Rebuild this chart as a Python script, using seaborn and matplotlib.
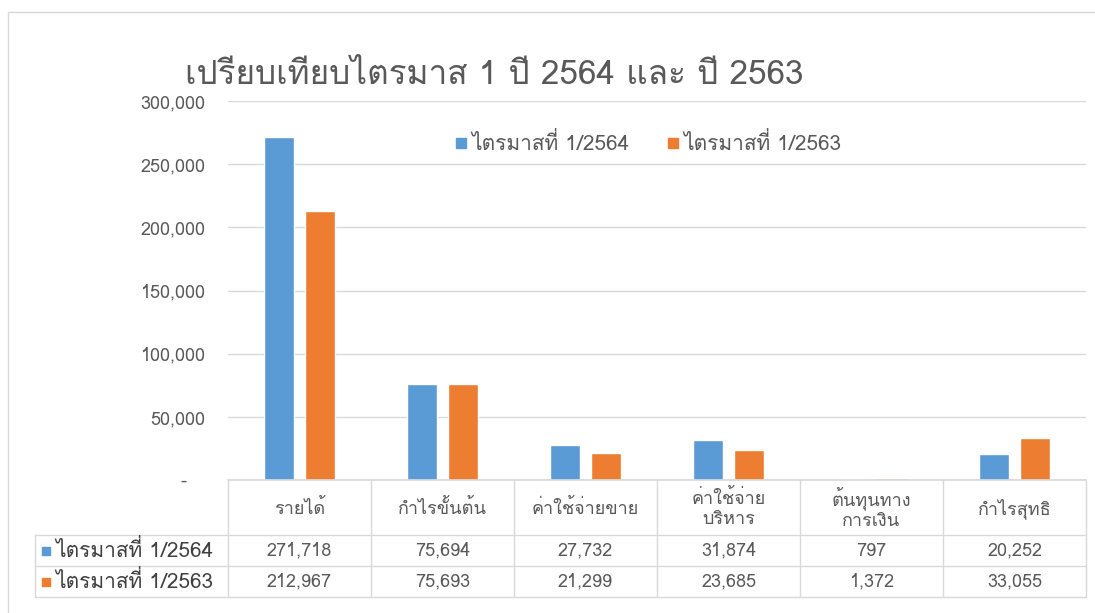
import matplotlib
matplotlib.use("Agg")
import matplotlib.pyplot as plt
import seaborn as sns
import pandas as pd
from matplotlib.ticker import FixedLocator, FuncFormatter
from matplotlib.patches import Rectangle

# Données du graphique
title = "เปรียบเทียบไตรมาส 1 ปี 2564 และ ปี 2563"
categories = ["รายได้", "กำไรขั้นต้น", "ค่าใช้จ่ายขาย", "ค่าใช้จ่าย\nบริหาร", "ต้นทุนทาง\nการเงิน", "กำไรสุทธิ"]
series_names = ["ไตรมาสที่ 1/2564", "ไตรมาสที่ 1/2563"]
q1_2564 = [271718, 75694, 27732, 31874, 797, 20252]
q1_2563 = [212967, 75693, 21299, 23685, 1372, 33055]
y_ticks = [0, 50000, 100000, 150000, 200000, 250000, 300000]

colors = ["#5B9BD5", "#ED7D31"]
text_color = "#595959"
line_color = "#D9D9D9"
fs = 13

sns.set_theme(style="white")
# Loma garde les signes diacritiques thaïs visibles sans mise en forme complexe
plt.rcParams["font.family"] = ["Loma", "Noto Sans", "DejaVu Sans"]

df = pd.DataFrame({
    "category": categories * 2,
    "series": [series_names[0]] * len(categories) + [series_names[1]] * len(categories),
    "value": q1_2564 + q1_2563,
})

W, H = 1095, 613
fig = plt.figure(figsize=(W / 100, H / 100), dpi=100)

# zone du graphique (en pixels)
left, right = 228, 1086
top, zero_y = 101, 480
ax = fig.add_axes([left / W, (H - zero_y) / H, (right - left) / W, (zero_y - top) / H])

sns.barplot(data=df, x="category", y="value", hue="series", palette=colors,
            width=0.56, gap=0.25, ax=ax, legend=False, saturation=1)
ax.set_xlim(-0.5, len(categories) - 0.5)
ax.set_ylim(0, 300000)
ax.yaxis.set_major_locator(FixedLocator(y_ticks))
ax.yaxis.set_major_formatter(FuncFormatter(lambda v, p: "-   " if v == 0 else f"{int(v):,}"))
ax.tick_params(axis="y", length=0, pad=16.5, labelsize=fs, labelcolor=text_color)
ax.tick_params(axis="x", length=0, labelbottom=False)
ax.set_xlabel("")
ax.set_ylabel("")
ax.grid(axis="y", color=line_color, linewidth=1)
ax.set_axisbelow(True)
for s in ["top", "right", "left"]:
    ax.spines[s].set_visible(False)
ax.spines["bottom"].set_color(line_color)

# Tableau de données sous le graphique
tbl_bottom = 597
tax = fig.add_axes([left / W, (H - tbl_bottom) / H, (right - left) / W, (tbl_bottom - zero_y) / H],
                   sharex=ax)
tax.set_ylim(tbl_bottom - zero_y, 0)
tax.axis("off")
header_h, row_h = 55, 31
n = len(categories)
px = 1.0 / ((right - left) / n)  # conversion px -> unités de données
x_tbl_left = -0.5 + (35 - left) * px

for yy in [header_h, header_h + row_h, header_h + 2 * row_h]:
    tax.plot([x_tbl_left, n - 0.5], [yy, yy], color=line_color, lw=1, clip_on=False)
for i in range(n + 1):
    tax.plot([i - 0.5, i - 0.5], [0, header_h + 2 * row_h], color=line_color, lw=1, clip_on=False)
tax.plot([x_tbl_left] * 2, [header_h, header_h + 2 * row_h], color=line_color, lw=1, clip_on=False)

for i, cat in enumerate(categories):
    tax.text(i, header_h / 2 + 1, cat, ha="center", va="center", fontsize=fs,
             color=text_color, linespacing=1.15)
for r, (name, vals) in enumerate(zip(series_names, [q1_2564, q1_2563])):
    yc = header_h + row_h * r + row_h / 2
    for i, v in enumerate(vals):
        tax.text(i, yc, f"{v:,}", ha="center", va="center", fontsize=fs, color=text_color)
    tax.scatter([-0.5 + (46 - left) * px], [yc], marker="s", s=36, color=colors[r], clip_on=False)
    tax.text(-0.5 + (55 - left) * px, yc, name, ha="left", va="center", fontsize=15,
             color="#404040")

# Légende
handles = [plt.Line2D([], [], marker="s", linestyle="", markersize=6.5, color=c) for c in colors]
fig.legend(handles, series_names, loc="center", bbox_to_anchor=(646 / W, (H - 143) / H),
           ncol=2, frameon=False, fontsize=15, handletextpad=0.0, columnspacing=1.6,
           handlelength=1.0, labelcolor=text_color)

fig.text(185 / W, (H - 75) / H, title, ha="left", va="center", fontsize=24, color=text_color)

# Bordure du graphique
fig.patches.append(Rectangle((8 / W, -0.01), 1.0, (H - 12) / H + 0.01, transform=fig.transFigure,
                             fill=False, edgecolor=line_color, lw=1))

fig.savefig("out.png", dpi=100)
